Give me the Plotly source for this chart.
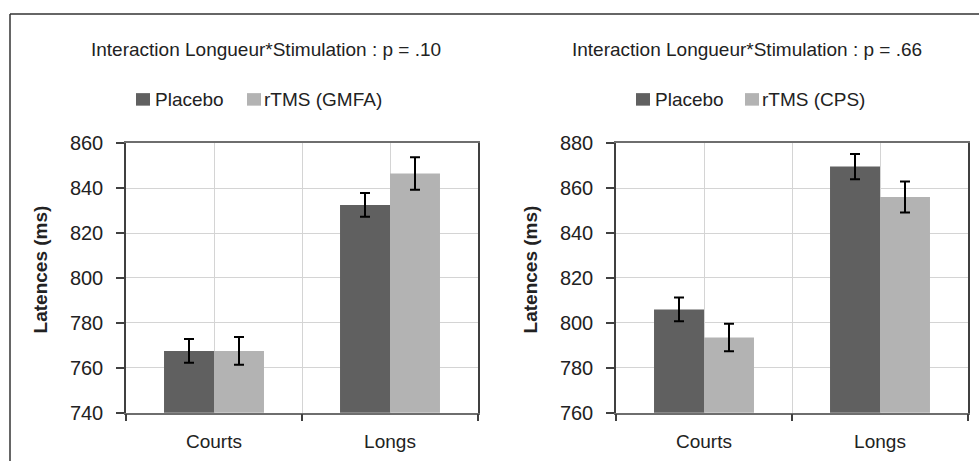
import plotly.graph_objects as go

# ---- data ----
categories = ["Courts", "Longs"]
series_names_left = ["Placebo", "rTMS (GMFA)"]
series_names_right = ["Placebo", "rTMS (CPS)"]

left_placebo = [767.5, 832.5]
left_placebo_err = [5.3, 5.3]
left_rtms = [767.5, 846.5]
left_rtms_err = [6.2, 7.2]

right_placebo = [806.0, 869.6]
right_placebo_err = [5.3, 5.6]
right_rtms = [793.5, 856.0]
right_rtms_err = [6.1, 6.9]

left_title = "Interaction Longueur*Stimulation : p = .10"
right_title = "Interaction Longueur*Stimulation : p = .66"
y_title = "Latences (ms)"
left_yticks = [740, 760, 780, 800, 820, 840, 860]
right_yticks = [760, 780, 800, 820, 840, 860, 880]

# ---- styles ----
W, HF = 979, 474          # figure size
OFF, SC = 10.0, 0.952     # vertical placement of the figure in the page photo
C_DARK = "#606060"
C_LIGHT = "#b3b3b3"
GRID = "#d4d4d4"
FONT = "Liberation Sans, Arial, sans-serif"
xpos = list(range(len(categories)))


def px(x):
    return x / W


def py(y):
    return 1 - (y - OFF) / SC / HF


fig = go.Figure()


def add_pair(vals_a, err_a, vals_b, err_b, names, xa, ya):
    for vals, err, col, name in ((vals_a, err_a, C_DARK, names[0]), (vals_b, err_b, C_LIGHT, names[1])):
        fig.add_trace(go.Bar(
            x=xpos, y=vals, name=name, xaxis=xa, yaxis=ya,
            marker=dict(color=col, line=dict(width=0)),
            error_y=dict(type="data", array=err, visible=True, color="#000000", thickness=2, width=5),
            showlegend=False,
        ))


add_pair(left_placebo, left_placebo_err, left_rtms, left_rtms_err, series_names_left, "x", "y")
add_pair(right_placebo, right_placebo_err, right_rtms, right_rtms_err, series_names_right, "x2", "y2")


def xaxis_cfg(domain, anchor):
    return dict(
        domain=domain, anchor=anchor, range=[-0.5, len(categories) - 0.5],
        tickmode="array", tickvals=xpos, ticktext=categories, ticks="",
        showgrid=True, gridcolor=GRID, gridwidth=1,
        showline=True, linecolor="#6e6e6e", linewidth=1.5, mirror=True,
        tickfont=dict(family=FONT, size=19, color="#222"),
        ticklabelstandoff=11, zeroline=False, fixedrange=True,
        minor=dict(tickvals=[i - 0.5 for i in range(len(categories) + 1)],
                   ticks="outside", ticklen=7, tickcolor="#404040", tickwidth=1.5,
                   showgrid=True, gridcolor=GRID, gridwidth=1),
    )


def yaxis_cfg(domain, anchor, ticks):
    return dict(
        domain=domain, anchor=anchor, range=[ticks[0], ticks[-1]],
        tickmode="array", tickvals=ticks,
        ticks="outside", ticklen=8, tickcolor="#404040", tickwidth=1.5,
        showgrid=True, gridcolor=GRID, gridwidth=1,
        showline=True, linecolor="#404040", linewidth=1.5, mirror=True,
        tickfont=dict(family=FONT, size=20, color="#222"),
        ticklabelstandoff=9, zeroline=False, fixedrange=True,
    )


ydom = [py(411), py(142)]
fig.update_layout(
    width=W, height=HF,
    margin=dict(l=0, r=0, t=0, b=0),
    paper_bgcolor="white", plot_bgcolor="white",
    barmode="group", bargap=0.432, bargroupgap=0,
    font=dict(family=FONT, size=19, color="#222"),
    xaxis=xaxis_cfg([px(126), px(478)], "y"),
    yaxis=yaxis_cfg(ydom, "x", left_yticks),
    xaxis2=xaxis_cfg([px(616), px(968)], "y2"),
    yaxis2=yaxis_cfg(ydom, "x2", right_yticks),
)

ann = []
shapes = []
TXT = dict(family=FONT, size=19, color="#222")
# titles
for tcx, title in ((266, left_title), (747, right_title)):
    ann.append(dict(x=px(tcx), y=py(48), xref="paper", yref="paper", text=title,
                    showarrow=False, xanchor="center", yanchor="middle", font=TXT))
# legends: swatch + label, per panel
legend_items = [
    (136, 154, C_DARK, series_names_left[0]), (247, 263, C_LIGHT, series_names_left[1]),
    (636, 654, C_DARK, series_names_right[0]), (745, 761, C_LIGHT, series_names_right[1]),
]
for sx, tx, col, name in legend_items:
    shapes.append(dict(type="rect", xref="paper", yref="paper",
                       x0=px(sx), x1=px(sx + 14), y0=py(104.5), y1=py(92),
                       fillcolor=col, line=dict(width=0)))
    ann.append(dict(x=px(tx - 1), y=py(98.5), xref="paper", yref="paper", text=name,
                    showarrow=False, xanchor="left", yanchor="middle", font=TXT))
# y axis titles
for tx in (40, 530):
    ann.append(dict(x=px(tx), y=py(268), xref="paper", yref="paper", text="<b>" + y_title + "</b>",
                    showarrow=False, textangle=-90, xanchor="center", yanchor="middle", font=TXT))

# outer frame (top and left edges)
shapes += [
    dict(type="line", xref="paper", yref="paper", x0=px(10), x1=1, y0=py(13), y1=py(13),
         line=dict(color="#333", width=1.5)),
    dict(type="line", xref="paper", yref="paper", x0=px(10), x1=px(10), y0=0, y1=py(13),
         line=dict(color="#333", width=1.5)),
]
fig.update_layout(annotations=ann, shapes=shapes)

fig.write_html(
    "out.html",
    config={"displayModeBar": False},
    post_script="document.body.style.margin='0';document.body.style.overflow='hidden';",
)
